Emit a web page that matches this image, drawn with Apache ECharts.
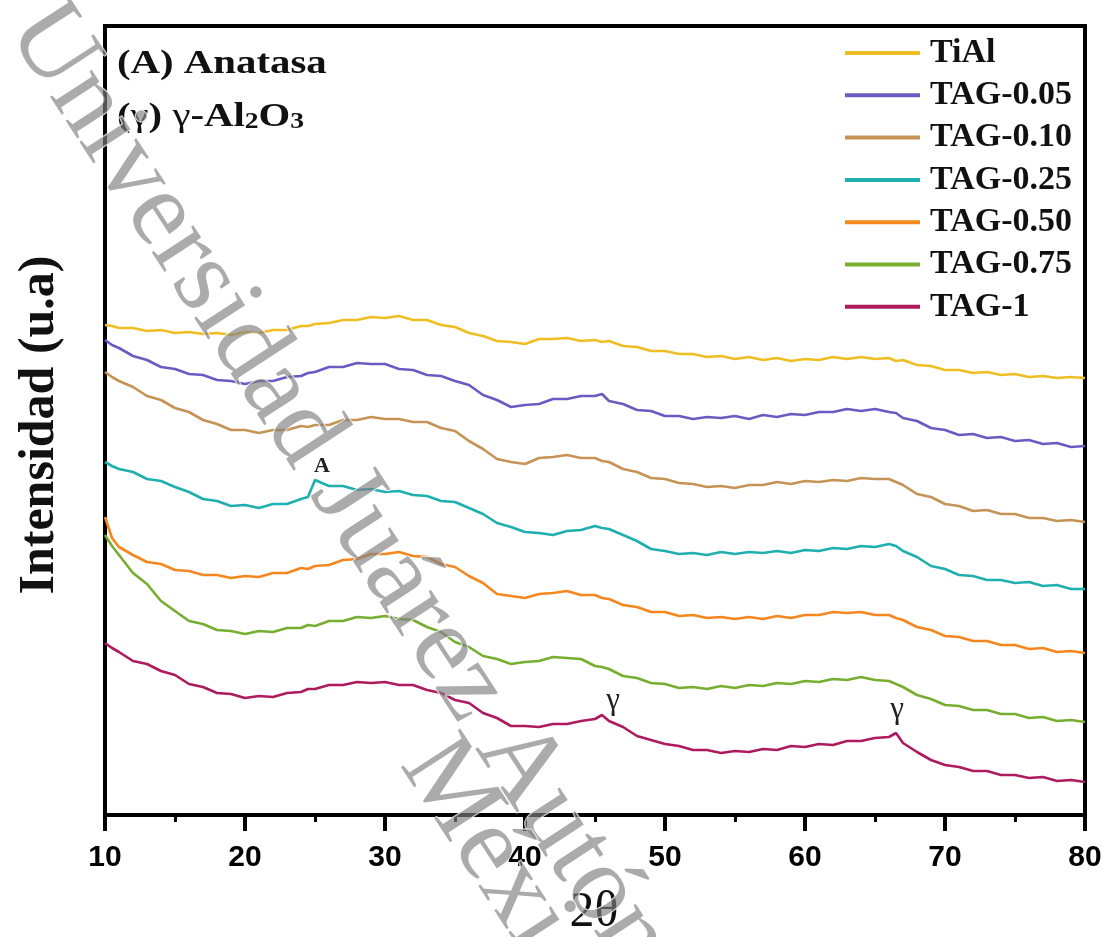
<!DOCTYPE html>
<html lang="es">
<head>
    <meta charset="UTF-8">
    <title>DRX TiAl y TAG</title>
    <script src="https://cdn.jsdelivr.net/npm/echarts@6/dist/echarts.min.js"></script>
    <style>
        html, body { margin: 0; padding: 0; background: #fff; }
        #main { width: 1109px; height: 937px; }
    </style>
</head>
<body>
<div id="main"></div>

<script type="text/javascript">
    // eje x (2θ) y las intensidades (u.a)
    var twoTheta = [10, 10.5, 11, 12, 13, 14, 15, 16, 17, 18, 19, 20, 21, 22, 23, 24, 24.5,
        25, 26, 27, 28, 29, 30, 31, 32, 33, 34, 35, 36, 37, 38, 39, 40, 41, 42, 43, 44, 45, 45.5,
        46, 47, 48, 49, 50, 51, 52, 53, 54, 55, 56, 57, 58, 59, 60, 61, 62, 63, 64, 65, 66, 66.5,
        67, 68, 69, 70, 71, 72, 73, 74, 75, 76, 77, 78, 79, 80];
    var xTicks = [10, 20, 30, 40, 50, 60, 70, 80];

    var tiAl = [490, 489, 487, 487, 484, 485, 482, 483, 481, 482, 480, 483, 482, 485, 485, 489, 489,
        491, 492, 495, 495, 498, 497, 499, 495, 495, 490, 488, 482, 479, 474, 473, 471, 476, 476, 477, 474, 475, 473,
        474, 469, 468, 464, 464, 461, 461, 458, 459, 456, 458, 455, 457, 454, 456, 455, 458, 456, 458, 456, 457, 454,
        455, 450, 449, 445, 445, 442, 443, 440, 441, 438, 439, 437, 438, 437];
    var tag005 = [475, 470, 467, 459, 455, 448, 446, 441, 440, 435, 434, 431, 434, 434, 438, 439, 442,
        443, 448, 448, 452, 451, 451, 446, 445, 440, 439, 434, 430, 420, 415, 408, 410, 411, 416, 416, 419, 419, 421,
        414, 411, 405, 404, 399, 399, 396, 398, 397, 399, 396, 400, 398, 401, 400, 403, 403, 406, 404, 406, 403, 402,
        397, 394, 387, 385, 380, 381, 377, 378, 374, 375, 371, 372, 368, 369];
    var tag010 = [443, 438, 434, 428, 419, 415, 407, 403, 395, 391, 385, 385, 382, 385, 385, 389, 388,
        390, 390, 395, 395, 398, 396, 396, 393, 393, 387, 384, 374, 366, 356, 353, 351, 357, 358, 360, 357, 357, 354,
        353, 346, 343, 337, 336, 332, 331, 328, 329, 327, 330, 330, 333, 331, 334, 333, 335, 334, 337, 336, 336, 333,
        330, 321, 318, 311, 309, 304, 305, 301, 301, 297, 297, 294, 295, 293];
    var tag025 = [353, 349, 346, 343, 336, 334, 328, 323, 316, 314, 309, 310, 307, 311, 311, 316, 318,
        335, 329, 329, 325, 326, 323, 324, 320, 319, 314, 313, 307, 301, 292, 288, 283, 282, 280, 284, 285, 289, 287,
        286, 280, 274, 266, 264, 261, 262, 260, 263, 261, 263, 262, 264, 262, 265, 264, 267, 266, 269, 268, 271, 269,
        264, 258, 249, 246, 240, 239, 235, 235, 232, 233, 229, 230, 226, 226];
    var tag050 = [298, 277, 268, 260, 253, 251, 245, 244, 240, 240, 237, 239, 238, 242, 242, 247, 246,
        249, 250, 255, 256, 261, 261, 263, 259, 258, 251, 248, 239, 232, 221, 219, 217, 221, 222, 224, 220, 220, 217,
        216, 210, 208, 203, 203, 199, 200, 197, 198, 196, 198, 196, 199, 197, 200, 200, 203, 202, 203, 200, 200, 197,
        195, 188, 185, 179, 178, 174, 174, 170, 170, 166, 167, 163, 164, 162];
    var tag075 = [280, 269, 260, 242, 231, 214, 204, 194, 191, 185, 184, 181, 184, 183, 187, 187, 190,
        189, 194, 194, 198, 197, 199, 196, 195, 188, 183, 173, 168, 159, 156, 151, 153, 154, 158, 157, 156, 149, 148,
        146, 139, 137, 132, 131, 127, 128, 126, 129, 127, 130, 129, 132, 131, 134, 133, 136, 135, 138, 135, 134, 131,
        128, 120, 116, 110, 109, 105, 105, 101, 101, 97, 98, 94, 95, 93];
    var tag1 = [172, 167, 163, 154, 151, 144, 140, 131, 128, 122, 121, 117, 119, 118, 122, 123, 126,
        126, 130, 130, 133, 132, 133, 130, 130, 125, 122, 115, 112, 102, 97, 89, 89, 88, 91, 91, 94, 96, 100,
        94, 88, 79, 75, 71, 69, 65, 65, 62, 64, 63, 66, 65, 69, 68, 71, 70, 74, 74, 77, 78, 82,
        72, 63, 55, 50, 48, 44, 44, 40, 40, 37, 38, 34, 35, 33];

    var names = ['TiAl', 'TAG-0.05', 'TAG-0.10', 'TAG-0.25', 'TAG-0.50', 'TAG-0.75', 'TAG-1'];
    var colors = ['#EFBE22', '#6A5BC2', '#C69356', '#1FAFAF', '#F5871E', '#76AE30', '#AE1A5E'];
    var allData = [tiAl, tag005, tag010, tag025, tag050, tag075, tag1];

    // picos marcados: Anatasa en TAG-0.25, γ-Al2O3 en TAG-1
    var anatasePeak = [25, 335];
    var gammaPeaks = [[45.5, 100], [66.5, 82]];

    var serif = '"Liberation Serif", "Times New Roman", serif';

    function pairs(arr) {
        return twoTheta.map(function (t, i) { return [t, arr[i]]; });
    }

    var myChart = echarts.init(document.getElementById('main'), null, {renderer: 'canvas'});

    var series = names.map(function (n, i) {
        return {
            name: n,
            type: 'line',
            data: pairs(allData[i]),
            showSymbol: false,
            lineStyle: {width: 2.6, color: colors[i]},
            itemStyle: {color: colors[i]},
            z: 3
        };
    });

    // etiqueta "A"
    series[3].markPoint = {
        symbol: 'circle', symbolSize: 0, silent: true,
        label: {show: true, position: 'inside', offset: [7, -14], formatter: 'A',
            fontFamily: serif, fontWeight: 'bold', fontSize: 22, color: '#222'},
        data: [{coord: anatasePeak}]
    };
    // etiquetas γ
    series[6].markPoint = {
        symbol: 'circle', symbolSize: 0, silent: true,
        label: {show: true, position: 'inside', formatter: 'γ',
            fontFamily: serif, fontSize: 31, color: '#222'},
        data: [
            {coord: gammaPeaks[0], label: {offset: [11, -14]}},
            {coord: gammaPeaks[1], label: {offset: [1, -23]}}
        ]
    };

    var option = {
        animation: false,
        backgroundColor: '#fff',
        grid: {
            left: 105, right: 24, top: 26, bottom: 122,
            show: true, borderColor: '#000', borderWidth: 4
        },
        legend: {
            data: names,
            orient: 'vertical',
            left: 845, top: 36,
            padding: 0,
            icon: 'rect',
            itemWidth: 75, itemHeight: 4,
            itemGap: 8.3,
            textStyle: {fontFamily: serif, fontWeight: 'bold', fontSize: 34, lineHeight: 34,
                color: '#111', padding: [0, 0, 0, 5]}
        },
        xAxis: {
            type: 'value',
            min: 10, max: 80, interval: 10,
            axisLine: {show: true, lineStyle: {color: '#000', width: 4}},
            axisTick: {show: true, inside: false, length: 16, lineStyle: {color: '#000', width: 4}},
            minorTick: {show: true, splitNumber: 2, length: 7, lineStyle: {color: '#000', width: 3}},
            axisLabel: {
                margin: 28, color: '#000', fontSize: 30, fontWeight: 'bold',
                fontFamily: '"Liberation Sans", Arial, sans-serif',
                formatter: function (v) { return xTicks.indexOf(v) >= 0 ? String(v) : ''; }
            },
            splitLine: {show: false}
        },
        yAxis: {
            type: 'value',
            min: 0, max: 789,
            axisLine: {show: true, lineStyle: {color: '#000', width: 4}},
            axisTick: {show: false},
            axisLabel: {show: false},
            splitLine: {show: false}
        },
        graphic: [
            {type: 'text', x: 117, y: 64, scaleX: 1.2, z: 50,
                style: {text: '(A) Anatasa', font: 'bold 34px ' + serif, fill: '#111',
                    textVerticalAlign: 'middle'}},
            {type: 'text', x: 117, y: 94, scaleX: 1.2, z: 50,
                style: {
                    text: '{b|(}{g|γ}{b|) }{g|γ}{b|-Al}{s|2}{b|O}{s|3}',
                    rich: {
                        b: {fontFamily: serif, fontWeight: 'bold', fontSize: 34, lineHeight: 40, verticalAlign: 'bottom', fill: '#111'},
                        g: {fontFamily: serif, fontSize: 34, lineHeight: 40, verticalAlign: 'bottom', fill: '#111'},
                        s: {fontFamily: serif, fontWeight: 'bold', fontSize: 23, lineHeight: 18, verticalAlign: 'bottom', fill: '#111'}
                    }
                }},
            {type: 'text', x: 40, y: 425, rotation: Math.PI / 2, z: 50,
                style: {text: 'Intensidad (u.a)', font: 'bold 50px ' + serif, fill: '#111',
                    textAlign: 'center', textVerticalAlign: 'middle'}},
            {type: 'text', x: 594, y: 913, z: 50,
                style: {text: '2θ', font: '50px ' + serif, fill: '#111',
                    textAlign: 'center', textVerticalAlign: 'middle'}},
            // marca de agua
            {type: 'text', x: 30, y: 14, rotation: -0.993, z: 100, silent: true,
                style: {text: 'Universidad Juárez Autónoma de', font: '108px ' + serif,
                    fill: 'rgba(128,128,128,0.66)', stroke: 'rgba(255,255,255,0.85)', lineWidth: 1.5,
                    textAlign: 'left', textVerticalAlign: 'middle'}},
            {type: 'text', x: 423, y: 749, rotation: -0.993, z: 100, silent: true,
                style: {text: 'México', font: '108px ' + serif,
                    fill: 'rgba(128,128,128,0.66)', stroke: 'rgba(255,255,255,0.85)', lineWidth: 1.5,
                    textAlign: 'left', textVerticalAlign: 'middle'}}
        ],
        series: series
    };

    myChart.setOption(option);
</script>
</body>
</html>
